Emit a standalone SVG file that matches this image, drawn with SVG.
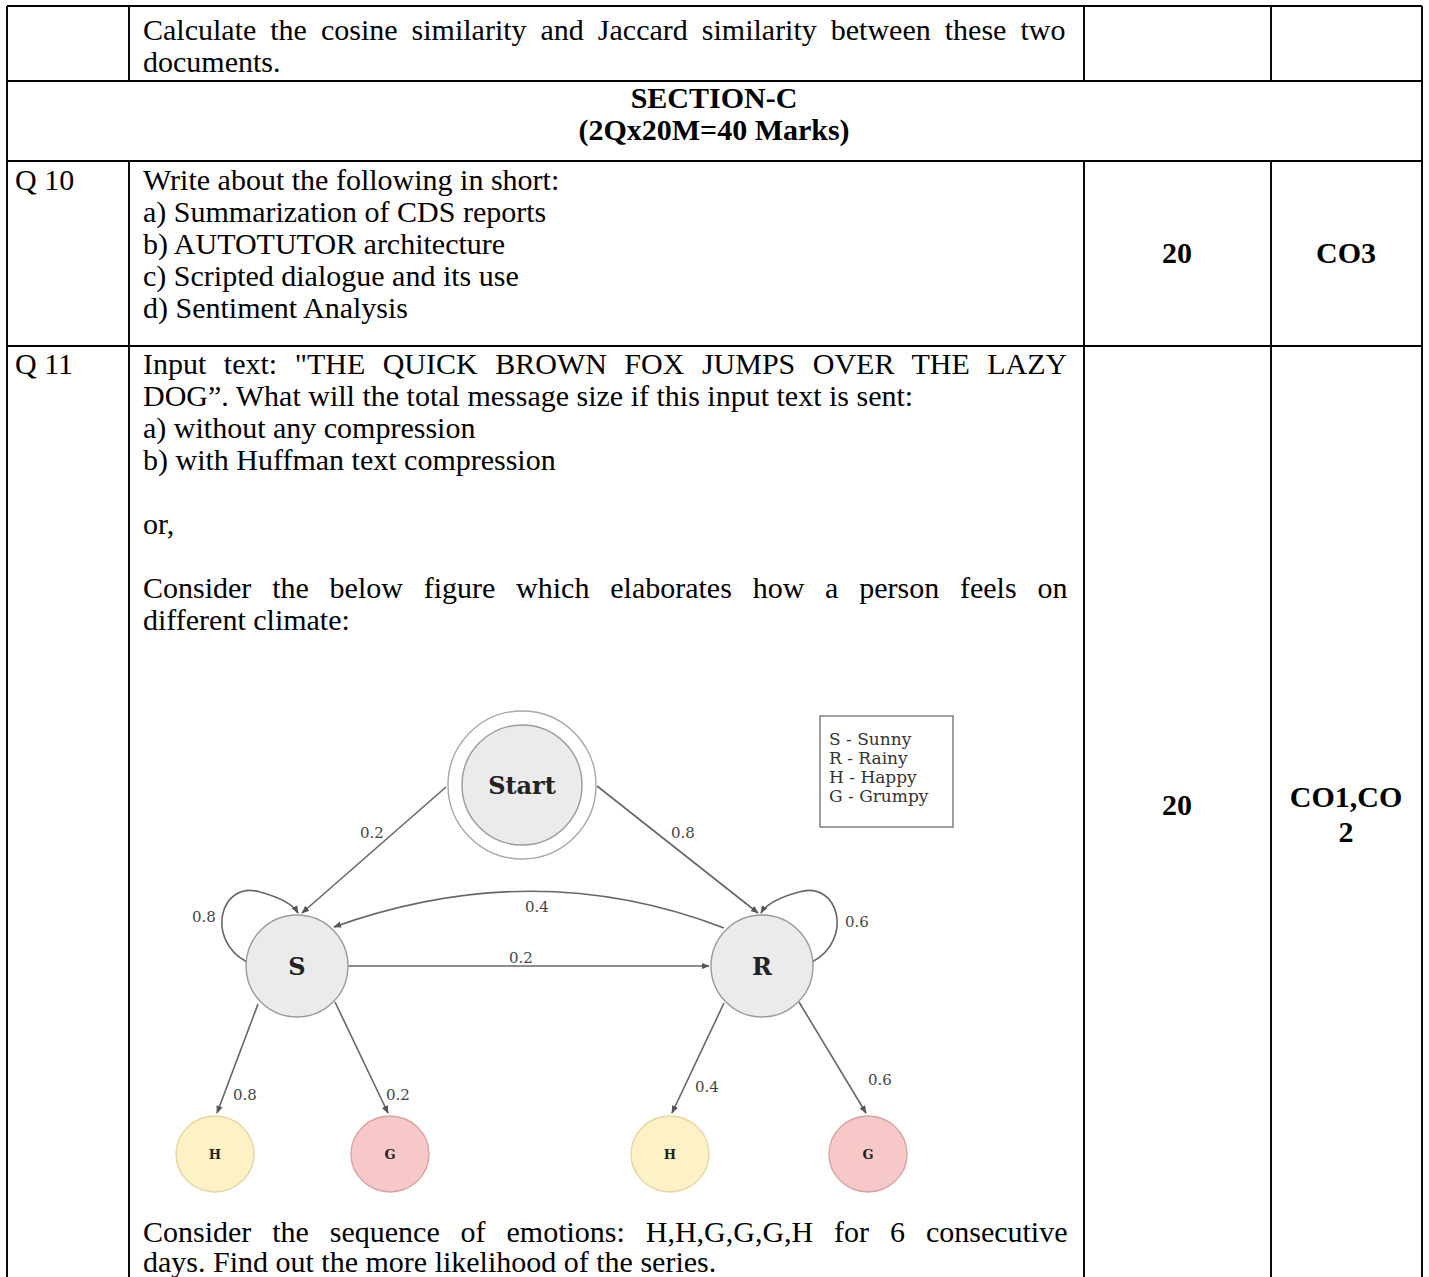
<svg xmlns="http://www.w3.org/2000/svg" width="1429" height="1277" viewBox="0 0 1429 1277">
<defs>
<style>
.t{font-family:"Liberation Serif","Times New Roman",serif;font-size:30px;fill:#000}
.b{font-weight:bold}
.grid{stroke:#000;stroke-width:1.9;fill:none}
.edge{stroke:#666;stroke-width:1.6;fill:none}
.lbl{font-family:"DejaVu Serif",serif;font-size:15px;fill:#444}
.node{fill:#ebebeb;stroke:#9a9a9a;stroke-width:1.4}
.hap{fill:#fdf1c6;stroke:#e6d7a2;stroke-width:1.4}
.grm{fill:#f6c8c8;stroke:#d9a3a3;stroke-width:1.4}
.nt{font-family:"DejaVu Serif",serif;font-weight:bold;fill:#222;text-anchor:middle}
.leg{font-family:"DejaVu Serif",serif;font-size:17px;fill:#333}
</style>
<marker id="arr" viewBox="0 0 10 10" refX="9" refY="5" markerWidth="8" markerHeight="8" orient="auto" markerUnits="userSpaceOnUse">
<path d="M0,1 L10,5 L0,9 z" fill="#555"/>
</marker>
</defs>
<rect width="1429" height="1277" fill="#fff"/>

<g id="table">
<path class="grid" d="M7,6 H1422 M7,81 H1422 M7,161 H1422 M7,346 H1422 M7,6 V1277 M1422,6 V1277 M129,6 V81 M129,161 V1277 M1084,6 V81 M1084,161 V1277 M1271,6 V81 M1271,161 V1277"/>
</g>

<g id="row1">
<text class="t" x="143" y="40" word-spacing="6.5">Calculate the cosine similarity and Jaccard similarity between these two</text>
<text class="t" x="143" y="72">documents.</text>
</g>

<g id="section">
<text class="t b" x="714" y="108" text-anchor="middle">SECTION-C</text>
<text class="t b" x="714" y="140" text-anchor="middle">(2Qx20M=40 Marks)</text>
</g>

<g id="q10">
<text class="t" x="15" y="190">Q 10</text>
<text class="t" x="143" y="190">Write about the following in short:</text>
<text class="t" x="143" y="222">a) Summarization of CDS reports</text>
<text class="t" x="143" y="254">b) AUTOTUTOR architecture</text>
<text class="t" x="143" y="286">c) Scripted dialogue and its use</text>
<text class="t" x="143" y="318">d) Sentiment Analysis</text>
<text class="t b" x="1177" y="263" text-anchor="middle">20</text>
<text class="t b" x="1346" y="263" text-anchor="middle">CO3</text>
</g>

<g id="q11">
<text class="t" x="15" y="374">Q 11</text>
<text class="t" x="143" y="374" word-spacing="10">Input text: "THE QUICK BROWN FOX JUMPS OVER THE LAZY</text>
<text class="t" x="143" y="406">DOG”. What will the total message size if this input text is sent:</text>
<text class="t" x="143" y="438">a) without any compression</text>
<text class="t" x="143" y="470">b) with Huffman text compression</text>
<text class="t" x="143" y="534">or,</text>
<text class="t" x="143" y="598" word-spacing="13.3">Consider the below figure which elaborates how a person feels on</text>
<text class="t" x="143" y="630">different climate:</text>
<text class="t" x="143" y="1242" word-spacing="13.4">Consider the sequence of emotions: H,H,G,G,G,H for 6 consecutive</text>
<text class="t" x="143" y="1272">days. Find out the more likelihood of the series.</text>
<text class="t b" x="1177" y="815" text-anchor="middle">20</text>
<text class="t b" x="1346" y="807" text-anchor="middle">CO1,CO</text>
<text class="t b" x="1346" y="842" text-anchor="middle">2</text>
</g>

<g id="connectors">
<path class="edge" d="M446,787 L302,913" marker-end="url(#arr)"/>
<path class="edge" d="M597,786 L758,913" marker-end="url(#arr)"/>
<path class="edge" d="M348,966 L709,966" marker-end="url(#arr)"/>
<path class="edge" d="M724,928 Q535,855 334,927" marker-end="url(#arr)"/>
<path class="edge" d="M247,962 C205,940 220,880 260,892 C282,898 294,906 298,913" marker-end="url(#arr)"/>
<path class="edge" d="M812,962 C854,940 839,880 799,892 C777,898 765,906 761,913" marker-end="url(#arr)"/>
<path class="edge" d="M258,1004 L217,1113" marker-end="url(#arr)"/>
<path class="edge" d="M335,1002 L388,1113" marker-end="url(#arr)"/>
<path class="edge" d="M724,1003 L672,1113" marker-end="url(#arr)"/>
<path class="edge" d="M799,1002 L866,1113" marker-end="url(#arr)"/>
<text class="lbl" x="372" y="838" text-anchor="middle">0.2</text>
<text class="lbl" x="683" y="838" text-anchor="middle">0.8</text>
<text class="lbl" x="537" y="912" text-anchor="middle">0.4</text>
<text class="lbl" x="521" y="963" text-anchor="middle">0.2</text>
<text class="lbl" x="204" y="922" text-anchor="middle">0.8</text>
<text class="lbl" x="857" y="927" text-anchor="middle">0.6</text>
<text class="lbl" x="245" y="1100" text-anchor="middle">0.8</text>
<text class="lbl" x="398" y="1100" text-anchor="middle">0.2</text>
<text class="lbl" x="707" y="1092" text-anchor="middle">0.4</text>
<text class="lbl" x="880" y="1085" text-anchor="middle">0.6</text>
</g>

<g id="node-start">
<circle cx="522" cy="785" r="74" fill="#fff" stroke="#a8a8a8" stroke-width="1.4"/>
<circle class="node" cx="522" cy="785" r="60"/>
<text class="nt" x="522" y="794" font-size="24">Start</text>
</g>
<g id="node-s">
<circle class="node" cx="297" cy="966" r="51"/>
<text class="nt" x="297" y="975" font-size="24">S</text>
</g>
<g id="node-r">
<circle class="node" cx="762" cy="966" r="51"/>
<text class="nt" x="762" y="975" font-size="24">R</text>
</g>
<g id="node-h1">
<ellipse class="hap" cx="215" cy="1154" rx="39" ry="38"/>
<text class="nt" x="215" y="1159" font-size="13">H</text>
</g>
<g id="node-g1">
<ellipse class="grm" cx="390" cy="1154" rx="39" ry="38"/>
<text class="nt" x="390" y="1159" font-size="13">G</text>
</g>
<g id="node-h2">
<ellipse class="hap" cx="670" cy="1154" rx="39" ry="38"/>
<text class="nt" x="670" y="1159" font-size="13">H</text>
</g>
<g id="node-g2">
<ellipse class="grm" cx="868" cy="1154" rx="39" ry="38"/>
<text class="nt" x="868" y="1159" font-size="13">G</text>
</g>
<g id="legend">
<rect x="820" y="716" width="133" height="111" fill="#fff" stroke="#777" stroke-width="1.4"/>
<text class="leg" x="829" y="745">S - Sunny</text>
<text class="leg" x="829" y="764">R - Rainy</text>
<text class="leg" x="829" y="783">H - Happy</text>
<text class="leg" x="829" y="802">G - Grumpy</text>
</g>
</svg>
